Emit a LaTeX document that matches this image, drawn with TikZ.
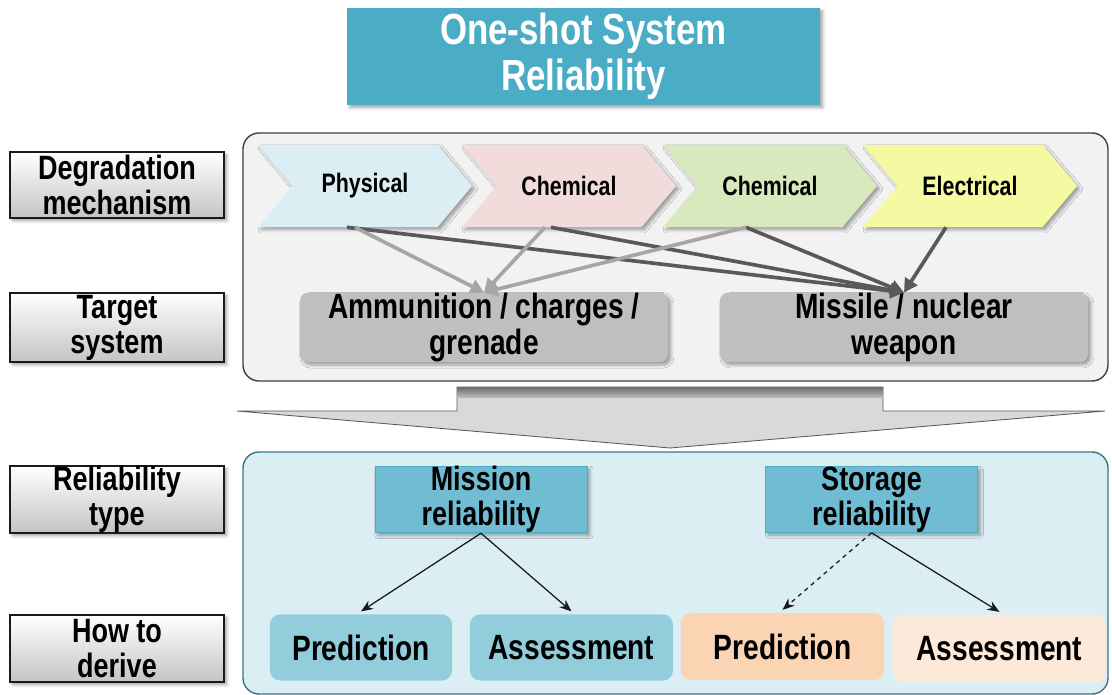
\documentclass[tikz,border=0pt]{standalone}
\usepackage{fontspec}
\setmainfont[FakeStretch=0.8]{Liberation Sans}
\usepackage{tikz}
\usetikzlibrary{arrows.meta,positioning,calc,shapes.symbols,shadows.blur}
\definecolor{ink}{HTML}{1A1A1A}
\definecolor{titleblue}{HTML}{4BACC6}
\definecolor{panelgray}{HTML}{F2F2F2}
\definecolor{paneledge}{HTML}{3F3F3F}
\definecolor{panelblue}{HTML}{DAEEF3}
\definecolor{paneltеal}{HTML}{3A7585}
\definecolor{labelgray}{HTML}{C4C4C4}
\definecolor{physblue}{HTML}{DBEEF4}
\definecolor{chempink}{HTML}{F2DCDB}
\definecolor{chemgreen}{HTML}{D7E9BD}
\definecolor{elecyellow}{HTML}{F5FAA2}
\definecolor{weapongray}{HTML}{BFBFBF}
\definecolor{typeblue}{HTML}{70BCD3}
\definecolor{deriveblue}{HTML}{92CDDC}
\definecolor{deriveorange}{HTML}{FBD4B4}
\definecolor{derivepeach}{HTML}{FDE9D9}
\definecolor{lightarrow}{HTML}{A6A6A6}
\definecolor{darkarrow}{HTML}{595959}
\tikzset{
  >={Stealth[length=3mm,width=2.4mm]},
  softshadow/.style={blur shadow={shadow xshift=2pt,shadow yshift=-2pt,shadow blur steps=6,shadow opacity=35}},
  rowlabel/.style={draw=ink,line width=.8pt,top color=white,bottom color=labelgray,minimum width=5.35cm,
    inner sep=0pt,align=center,font=\fontsize{24}{25}\selectfont\bfseries,softshadow},
  stage/.style={signal,signal from=west,signal to=east,signal pointer angle=100,minimum width=5.35cm,
    minimum height=2.05cm,inner sep=0pt,font=\fontsize{19}{20}\selectfont\bfseries,softshadow},
  weapon/.style={rounded corners=.2cm,fill=weapongray,minimum width=9.2cm,minimum height=1.725cm,
    inner sep=0pt,align=center,font=\fontsize{25}{26}\selectfont\bfseries,softshadow},
  reltype/.style={fill=typeblue,draw=titleblue,line width=.6pt,minimum width=5.3cm,minimum height=1.625cm,
    inner sep=0pt,align=center,font=\fontsize{24}{25}\selectfont\bfseries,softshadow},
  derive/.style={rounded corners=.25cm,minimum height=1.65cm,inner sep=0pt,
    font=\fontsize{25}{26}\selectfont\bfseries},
  lightflow/.style={-{Triangle[length=3.4mm,width=3.6mm]},line width=2.6pt,color=lightarrow},
  darkflow/.style={-{Triangle[length=3.4mm,width=3.6mm]},line width=2.6pt,color=darkarrow},
  thinflow/.style={->,line width=.9pt,color=ink},
}

\begin{document}
\begin{tikzpicture}[x=0.025cm,y=-0.025cm]
  \useasboundingbox (0,0) rectangle (1112,695);
  % two panels
  \draw[fill=panelgray,draw=paneledge,line width=1pt,rounded corners=.4cm] (243,133) rectangle (1108,381);
  \draw[fill=panelblue,draw=paneltеal,line width=1pt,rounded corners=.4cm] (243,452) rectangle (1108,694);
  % wide arrow between the panels
  \draw[fill=gray!30,draw=gray!70!black,line width=.6pt]
    (237,411) -- (457,411) -- (457,387) -- (883,387) -- (883,411) -- (1105,411) -- (670,448) -- cycle;
  \shade[top color=gray!85!black,bottom color=gray!55] (457,387) rectangle (883,397);

  \node[softshadow,fill=titleblue,minimum width=11.825cm,minimum height=2.425cm,align=center,
    text=white,font=\fontsize{31}{33}\selectfont\bfseries] (title) at (583.5,56.5) {One-shot System\\Reliability};

  \foreach \name/\y/\h/\txt in {degr/185/1.65cm/{Degradation\\mechanism},target/327.5/1.725cm/{Target\\system},
      rtype/499.5/1.675cm/{Reliability\\type},howto/648.5/1.675cm/{How to\\derive}}
    {\node[rowlabel,minimum height=\h] (\name) at (117,\y) {\txt};}

  \foreach \name/\x/\col/\txt in {phys/365/physblue/Physical,chem/569/chempink/Chemical,
      chemb/770/chemgreen/Chemical,elec/970/elecyellow/Electrical}
    {\node[stage,fill=\col] (\name) at (\x,186) {\txt};}

  \node[weapon] (ammo) at (484,327.5) {Ammunition / charges /\\grenade};
  \node[weapon] (missile) at (904,327.5) {Missile / nuclear\\weapon};

  \draw[darkflow] ([xshift=-.45cm]phys.south) -- (missile.north);
  \draw[darkflow] ([xshift=-.45cm]chem.south) -- (missile.north);
  \draw[darkflow] ([xshift=-.6cm]chemb.south) -- (missile.north);
  \draw[darkflow] ([xshift=-.6cm]elec.south) -- (missile.north);
  \draw[lightflow] ([xshift=-.25cm]phys.south) -- (ammo.north);
  \draw[lightflow] ([xshift=-.6cm]chem.south) -- (ammo.north);
  \draw[lightflow] ([xshift=-.6cm]chemb.south) -- (ammo.north);

  \node[reltype] (mission) at (481,499.5) {Mission\\reliability};
  \node[reltype] (storage) at (871.5,499.5) {Storage\\reliability};

  \node[derive,fill=deriveblue,minimum width=4.55cm] (predA) at (361,647.5) {Prediction};
  \node[derive,fill=deriveblue,minimum width=5.075cm] (assessA) at (571.5,647.5) {Assessment};
  \node[derive,fill=deriveorange,minimum width=5.075cm,minimum height=1.675cm] (predB) at (782.5,646.5) {Prediction};
  \node[derive,fill=derivepeach,minimum width=5.325cm,minimum height=1.675cm] (assessB) at (999.5,648.5) {Assessment};

  \draw[thinflow] (mission.south) -- ([yshift=2pt]predA.north);
  \draw[thinflow] (mission.south) -- ([yshift=2pt]assessA.north);
  \draw[thinflow,dashed] (storage.south) -- ([yshift=2pt]predB.north);
  \draw[thinflow] (storage.south) -- ([yshift=2pt]assessB.north);
\end{tikzpicture}
\end{document}
